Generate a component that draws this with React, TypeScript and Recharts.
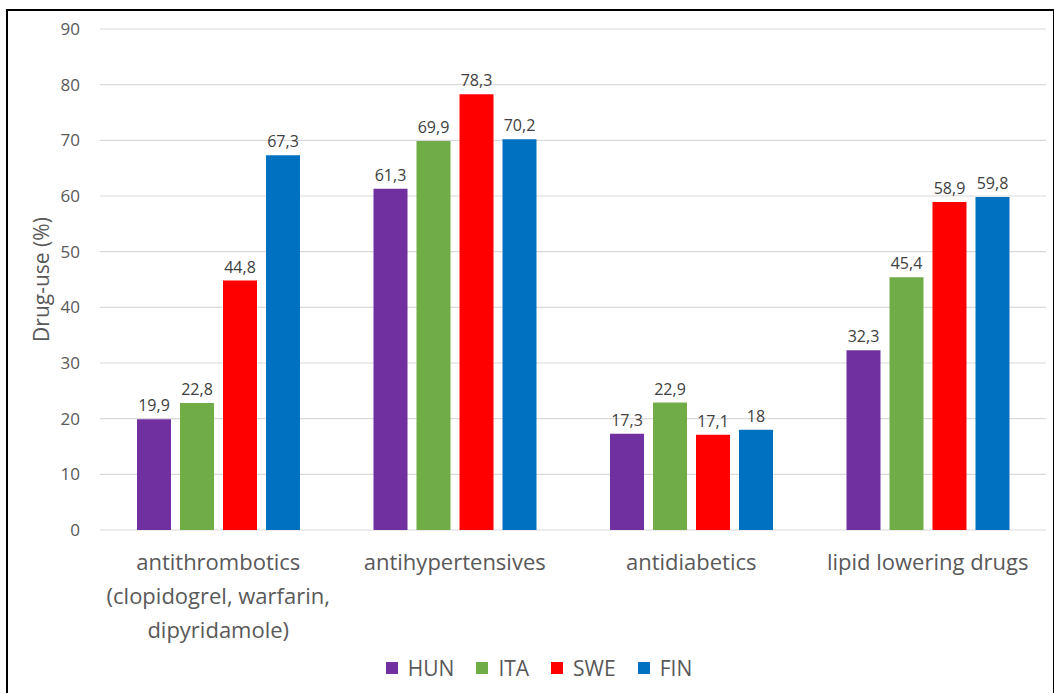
import { BarChart, Bar, XAxis, YAxis, CartesianGrid, Legend, LabelList } from 'recharts';

const categories = [
  'antithrombotics\n(clopidogrel, warfarin,\ndipyridamole)',
  'antihypertensives',
  'antidiabetics',
  'lipid lowering drugs',
];
const hun = [19.9, 61.3, 17.3, 32.3];
const ita = [22.8, 69.9, 22.9, 45.4];
const swe = [44.8, 78.3, 17.1, 58.9];
const fin = [67.3, 70.2, 18, 59.8];
const yTicks = [0, 10, 20, 30, 40, 50, 60, 70, 80, 90];

const series = [
  { key: 'HUN', color: '#7030A0' },
  { key: 'ITA', color: '#70AD47' },
  { key: 'SWE', color: '#FF0000' },
  { key: 'FIN', color: '#0070C0' },
];

const data = categories.map((name, i) => ({
  name,
  HUN: hun[i],
  ITA: ita[i],
  SWE: swe[i],
  FIN: fin[i],
}));

const FONT = '"Open Sans", sans-serif';
const TEXT = '#595959';

const fmt = (v: any) => String(v).replace('.', ',');

function CategoryTick({ x, y, payload }: any) {
  const lines = String(payload.value).split('\n');
  return (
    <text x={x} y={y} textAnchor="middle" fill={TEXT} fontSize={22} fontFamily={FONT}>
      {lines.map((line, i) => (
        <tspan key={i} x={x} dy={i === 0 ? 32 : 34}>
          {line}
        </tspan>
      ))}
    </text>
  );
}

function LegendContent() {
  return (
    <div style={{ display: 'flex', justifyContent: 'center', alignItems: 'center', height: 26, fontFamily: FONT, fontSize: 21, color: TEXT, paddingRight: 8 }}>
      {series.map((s) => (
        <div key={s.key} style={{ display: 'flex', alignItems: 'center', margin: '0 11px' }}>
          <span style={{ display: 'inline-block', width: 12, height: 12, background: s.color, marginRight: 10 }} />
          <span>{s.key}</span>
        </div>
      ))}
    </div>
  );
}

export default function App() {
  return (
    <div
      style={{
        position: 'absolute',
        left: 6,
        top: 9,
        width: 1045,
        height: 700,
        borderTop: '2px solid #000',
        borderLeft: '2px solid #000',
        borderRight: '2px solid #000',
        background: '#fff',
      }}
    >
      <BarChart
        width={1045}
        height={682}
        data={data}
        margin={{ top: 18, right: 7, left: 32, bottom: 12 }}
        barGap={9}
        barSize={34}
      >
        <CartesianGrid vertical={false} stroke="#d9d9d9" strokeWidth={1.2} />
        <XAxis
          dataKey="name"
          axisLine={false}
          tickLine={false}
          height={125}
          interval={0}
          tick={<CategoryTick />}
        />
        <YAxis
          domain={[0, 90]}
          ticks={yTicks}
          width={60}
          axisLine={false}
          tickLine={false}
          tickSize={6}
          tickMargin={14}
          tick={{ fill: TEXT, fontSize: 17, fontFamily: FONT }}
          label={{
            value: 'Drug-use (%)',
            angle: -90,
            position: 'insideLeft',
            offset: 2,
            style: { textAnchor: 'middle', fill: TEXT, fontSize: 21, fontFamily: FONT },
          }}
        />
        <Legend verticalAlign="bottom" height={26} content={<LegendContent />} />
        {series.map((s) => (
          <Bar key={s.key} dataKey={s.key} fill={s.color} isAnimationActive={false}>
            <LabelList
              dataKey={s.key}
              position="top"
              offset={8}
              formatter={fmt}
              style={{ fill: '#404040', fontSize: 16, fontFamily: FONT }}
            />
          </Bar>
        ))}
      </BarChart>
    </div>
  );
}
